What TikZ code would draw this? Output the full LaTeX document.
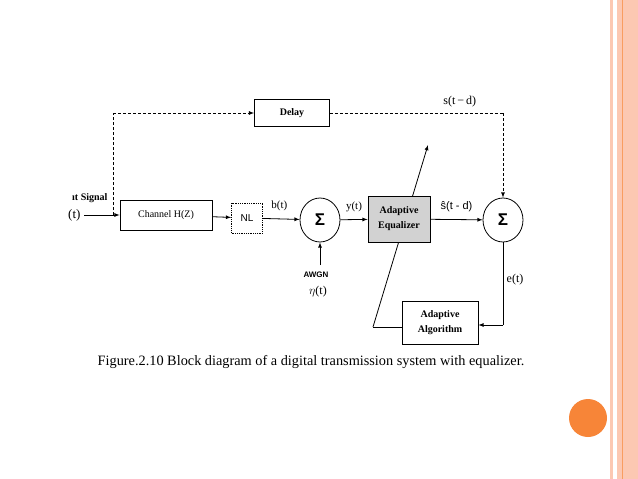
\documentclass[tikz,border=0pt]{standalone}
\usepackage{tikz}
\usepackage{fontspec}
\setmainfont{Liberation Serif}
\setsansfont{Liberation Sans}
\usetikzlibrary{positioning, arrows, shapes.geometric}
\definecolor{slideorange}{RGB}{247,133,56}
\definecolor{slidepale}{RGB}{252,200,178}
\begin{document}
\begin{tikzpicture}[x=1pt,y=-1pt,>=latex,font=\fontsize{11}{12}\selectfont]
       \tikzstyle{block}=[draw,thick,align=center,font=\fontsize{10}{13}\selectfont]
       \tikzstyle{summer}=[draw,thick,ellipse,minimum width=40pt,minimum height=44pt,font=\fontsize{17}{17}\selectfont\bfseries\sffamily]
       \tikzstyle{sig}=[->,thick]
       \useasboundingbox (0,0) rectangle (638,479);

       % slide decoration
       \fill[slidepale] (610,0) rectangle (613,479);
       \fill[slidepale] (617,0) rectangle (638,479);
       \draw[slideorange!80,thin] (622,0) -- (622,479);
       \fill[slideorange] (588,418) circle (19);

       \coordinate (lbend) at (373,327);
       \coordinate (ltop) at (428,145);
       \draw[sig] (lbend) -- (ltop);

       \node[block,font=\fontsize{10}{12}\selectfont\bfseries,minimum width=75pt,minimum height=27pt] (delay) at (292,113) {Delay};
       \node[block,minimum width=92pt,minimum height=30pt] (chan) at (166,215) {Channel H(Z)};
       \node[draw,thick,densely dotted,minimum width=31pt,minimum height=30pt,font=\fontsize{10}{12}\sffamily] (nl) at (247,218) {NL};
       \node[summer] (s1) at (320,220) {Σ};
       \node[block,fill=gray!35,font=\fontsize{10}{15}\selectfont\bfseries,minimum width=62pt,minimum height=46pt] (eq) at (399,219) {Adaptive\\Equalizer};
       \node[summer] (s2) at (503,220) {Σ};
       \node[block,fill=white,font=\fontsize{10}{15}\selectfont\bfseries,minimum width=76pt,minimum height=43pt] (alg) at (440,323) {Adaptive\\Algorithm};

       \node[font=\fontsize{10}{12}\selectfont\bfseries,anchor=east] (insig) at (111,198) {ıt Signal};
       \node[anchor=east,font=\fontsize{13}{14}\selectfont] (in) at (84,215) {(t)};
       \coordinate (tap) at (113,215);
       \coordinate (tapup) at (113,113);
       \coordinate (dright) at (503,113);
       \node[font=\fontsize{8}{9}\sffamily\bfseries] (awgn) at (316,275) {AWGN};
       \node[font=\fontsize{12}{13}\selectfont] (eta) at (318,292) {$\eta$(t)};
       \coordinate (noise) at (320,265);
       \coordinate (ebend) at (503,325);

       \draw[thick] (in) -- (tap);
       \draw[sig] (tap) -- (chan);
       \draw[sig] (chan) -- (nl);
       \draw[sig] (nl) -- node[above,pos=0.45,yshift=4pt] {b(t)} (s1);
       \draw[sig] (s1) -- node[above,yshift=4pt] {y(t)} (eq);
       \draw[sig] (eq) -- node[above,yshift=4pt,font=\fontsize{11}{12}\sffamily] {ŝ(t - d)} (s2);
       \draw[sig] (noise) -- (s1);
       \draw[thick,densely dashed] (tap) -- (tapup);
       \draw[sig,densely dashed] (tapup) -- (delay);
       \draw[thick,densely dashed] (delay) -- node[above,pos=0.75,yshift=2pt,font=\fontsize{12}{13}\selectfont] {s(t\,−\,d)} (dright);
       \draw[sig,densely dashed] (dright) -- (s2);
       \draw[thick] (s2) -- node[right,pos=0.45,font=\fontsize{12}{13}\selectfont] {e(t)} (ebend);
       \draw[sig] (ebend) -- (alg.east |- ebend);
       \draw[thick] (alg.west |- lbend) -- (lbend);

       \node[font=\fontsize{14.3}{16}\selectfont] (cap) at (311,362) {Figure.2.10 Block diagram of a digital transmission system with equalizer.};
\end{tikzpicture}
\end{document}
